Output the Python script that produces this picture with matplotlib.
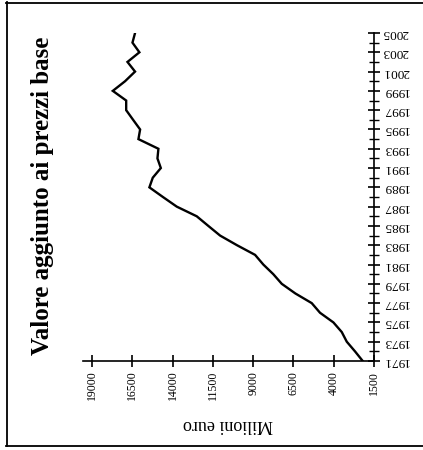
import matplotlib
matplotlib.use("Agg")
import matplotlib.pyplot as plt
from matplotlib.lines import Line2D

years = list(range(1971, 2006))
valore = [2200, 2680, 3190, 3500, 4020, 4850, 5365, 6380, 7225, 7750,
          8370, 8880, 10000, 11050, 11780, 12500, 13740, 14600, 15440, 15230,
          14730, 14940, 14880, 16120, 16015, 16450, 16880, 16880, 17710, 16950,
          16330, 16800, 16060, 16490, 16330]
value_ticks = [19000, 16500, 14000, 11500, 9000, 6500, 4000, 1500]
year_ticks = list(range(1971, 2006, 2))

plt.rcParams['font.family'] = ['Liberation Serif', 'DejaVu Serif']

W, H = 423, 450
fig = plt.figure(figsize=(W / 100, H / 100), dpi=100)
ax = fig.add_axes([83 / W, (H - 361) / H, (374 - 83) / W, (361 - 33) / H])

ax.plot(valore, years, color='black', lw=1.7, solid_joinstyle='miter')

ax.set_xlim(19560, 1500)
ax.set_ylim(1971, 2005)

for s in ['top', 'left']:
    ax.spines[s].set_visible(False)
ax.spines['bottom'].set_linewidth(1.2)
ax.spines['right'].set_linewidth(1.2)

ax.set_xticks(value_ticks)
ax.set_xticklabels([str(v) for v in value_ticks], rotation=90, fontsize=8.5)
ax.tick_params(axis='x', direction='inout', length=8, width=1.2, pad=3)

ax.yaxis.tick_right()
ax.set_yticks(year_ticks)
ax.set_yticks(years, minor=True)
ax.set_yticklabels([str(y) for y in year_ticks], rotation=180, fontsize=9.5,
                   va='center')
ax.tick_params(axis='y', which='major', direction='inout', length=8, width=1.2, pad=2)
ax.tick_params(axis='y', which='minor', direction='inout', length=7, width=1.0)

fig.text(228 / W, 1 - 424 / H, "Milioni euro", rotation=180, fontsize=13,
         ha='center', va='center')
fig.text(42 / W, 1 - 196 / H, "Valore aggiunto ai prezzi base", rotation=90,
         fontsize=18, fontweight='bold', ha='center', va='center')

# cornice
fig.add_artist(Line2D([6 / W, 1], [1 - 2.5 / H, 1 - 2.5 / H], color='black', lw=1.3))
fig.add_artist(Line2D([6.5 / W, 6.5 / W], [1 - 2 / H, 1 - 446 / H], color='black', lw=1.3))
fig.add_artist(Line2D([6 / W, 1], [1 - 446 / H, 1 - 446 / H], color='black', lw=1.3))

fig.savefig("out.png", dpi=100)
